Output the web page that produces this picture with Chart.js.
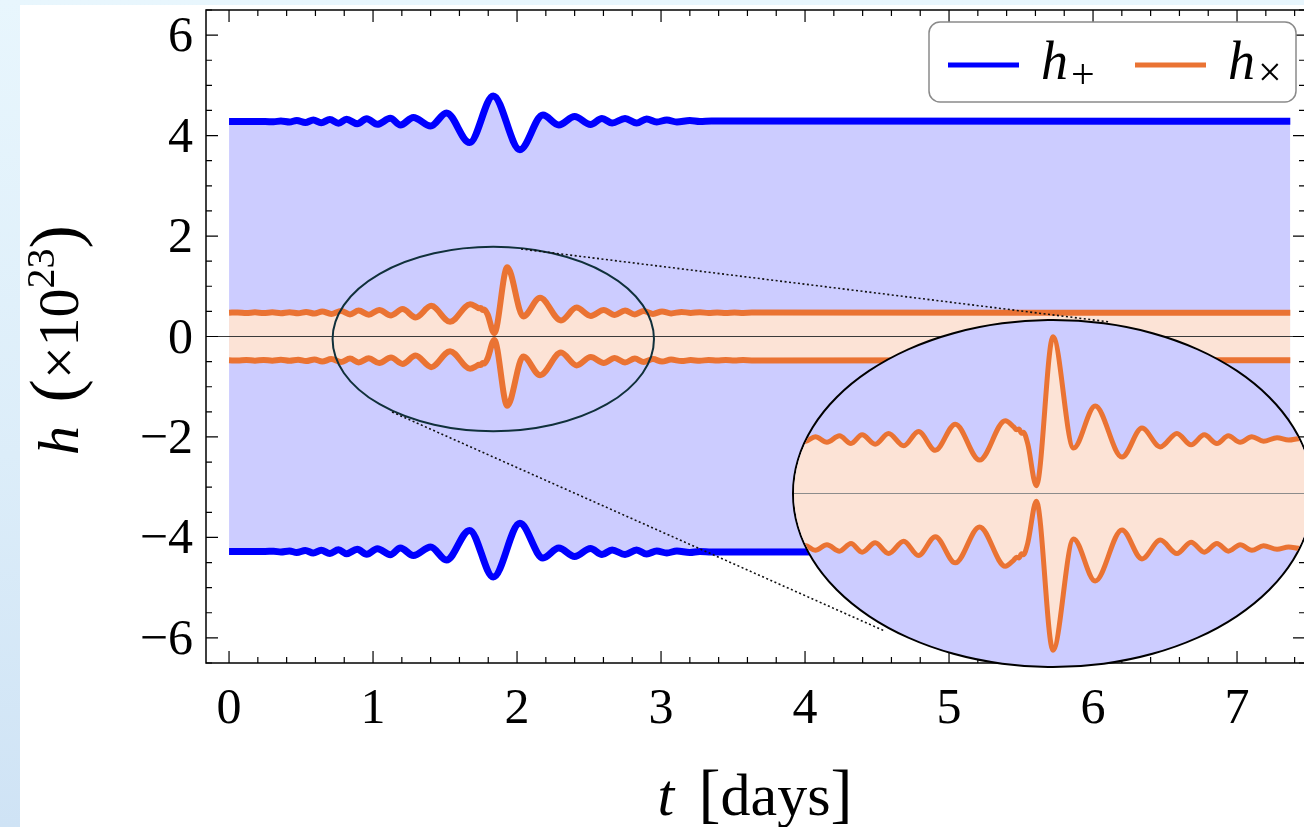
<!DOCTYPE html>
<html>
<head>
<meta charset="utf-8">
<script src="https://cdn.jsdelivr.net/npm/chart.js@4.4.0/dist/chart.umd.min.js"></script>
<style>
  html, body { margin: 0; padding: 0; width: 1304px; height: 827px; overflow: hidden; }
  body { position: relative; background: linear-gradient(180deg, #e8f6fd 0%, #dcedf9 55%, #cfe3f5 100%); }
  #panel { position: absolute; left: 20px; top: 5px; width: 1284px; height: 822px; background: #fff; }
  #main { position: absolute; left: 0; top: 0; }
  #lens { position: absolute; left: 792px; top: 319px; width: 518px; height: 345px;
          border: 2px solid #000; border-radius: 50%; overflow: hidden; background: rgb(204,204,255); }
  #zoom { display: block; }
</style>
</head>
<body>
<div id="panel"></div>
<canvas id="main" width="1310" height="827"></canvas>
<div id="lens"><canvas id="zoom" width="518" height="345"></canvas></div>
<script>
// h_plus: extrema (days, x1e-23)
const tPlus = [0.00, 0.25, 0.31, 0.36, 0.42, 0.47, 0.53, 0.585, 0.64, 0.70, 0.76, 0.816, 0.89, 0.956,
  1.03, 1.12, 1.19, 1.28, 1.40, 1.51, 1.67, 1.835, 2.02, 2.18, 2.29, 2.40, 2.51, 2.59, 2.66, 2.75,
  2.83, 2.90, 2.97, 3.04, 3.11, 3.20, 3.27, 3.35, 7.37];
const hPlusTop = [4.28, 4.28, 4.275, 4.29, 4.27, 4.30, 4.26, 4.31, 4.255, 4.32, 4.245, 4.325, 4.235, 4.335,
  4.225, 4.345, 4.21, 4.36, 4.19, 4.45, 3.86, 4.79, 3.72, 4.41, 4.21, 4.38, 4.22, 4.34, 4.25, 4.34,
  4.25, 4.33, 4.27, 4.31, 4.27, 4.30, 4.28, 4.29, 4.285];
const hPlusBottom = [-4.28, -4.28, -4.275, -4.29, -4.27, -4.30, -4.26, -4.31, -4.255, -4.32, -4.245, -4.325, -4.235, -4.335,
  -4.225, -4.345, -4.21, -4.36, -4.19, -4.45, -3.86, -4.79, -3.72, -4.41, -4.21, -4.38, -4.22, -4.34, -4.25, -4.34,
  -4.25, -4.33, -4.27, -4.31, -4.27, -4.30, -4.28, -4.29, -4.285];

// h_cross: extrema
const tCross = [0.00, 0.06, 0.12, 0.18, 0.24, 0.30, 0.36, 0.42, 0.48, 0.535, 0.593, 0.647, 0.710, 0.778,
  0.840, 0.900, 0.971, 1.043, 1.125, 1.205, 1.296, 1.404, 1.535, 1.674, 1.720, 1.735, 1.748, 1.762,
  1.772, 1.795, 1.842, 1.932, 2.043, 2.160, 2.305, 2.413, 2.512, 2.602, 2.678, 2.750, 2.818, 2.880,
  2.944, 3.007, 3.070, 3.143, 3.206, 3.270, 3.330, 3.390, 3.450, 3.510, 3.570, 3.630, 7.370];
const hCrossTop = [0.474, 0.480, 0.468, 0.481, 0.467, 0.482, 0.465, 0.484, 0.463, 0.488, 0.458, 0.500, 0.450, 0.507,
  0.440, 0.516, 0.434, 0.528, 0.420, 0.545, 0.380, 0.610, 0.294, 0.640, 0.585, 0.560, 0.568, 0.530,
  0.538, 0.440, 0.068, 1.378, 0.400, 0.770, 0.320, 0.575, 0.410, 0.528, 0.428, 0.516, 0.440, 0.507,
  0.450, 0.500, 0.460, 0.490, 0.470, 0.484, 0.466, 0.480, 0.468, 0.478, 0.470, 0.476, 0.474];
const hCrossBottom = [-0.474, -0.480, -0.468, -0.481, -0.467, -0.482, -0.465, -0.484, -0.463, -0.488, -0.458, -0.500, -0.450, -0.507,
  -0.440, -0.516, -0.434, -0.528, -0.420, -0.545, -0.380, -0.610, -0.294, -0.640, -0.585, -0.560, -0.568, -0.530,
  -0.538, -0.440, -0.068, -1.378, -0.400, -0.770, -0.320, -0.575, -0.410, -0.528, -0.428, -0.516, -0.440, -0.507,
  -0.450, -0.500, -0.460, -0.490, -0.470, -0.484, -0.466, -0.480, -0.468, -0.478, -0.470, -0.476, -0.474];

const xTicks = [0, 1, 2, 3, 4, 5, 6, 7];
const xTickLabels = ['0', '1', '2', '3', '4', '5', '6', '7'];
const yTicks = [-6, -4, -2, 0, 2, 4, 6];
const yTickLabels = ['\u22126', '\u22124', '\u22122', '0', '2', '4', '6'];

const BLUE = '#0000ff';
const ORANGE = '#ea7333';
const BLUE_FILL = 'rgba(0,0,255,0.2)';
const PEACH = '#fce3d6';
const SERIF = '"Liberation Serif", "DejaVu Serif", serif';

// zoom marker on the main plot (data units) and the dotted guide lines
const lens = { t: 1.835, h: -0.05, dt: 1.116, dh: 1.836 };
const guides = [
  [[2.028, 1.742], [6.118, 0.289]],
  [[1.132, -1.503], [4.556, -5.867]]
];

function pts(ts, vs) {
  return ts.map((t, i) => ({ x: t, y: vs[i] }));
}

function drawText(ctx, parts, x, y, align) {
  let total = 0;
  parts.forEach(p => { ctx.font = p.font; p.w = ctx.measureText(p.text).width + (p.gap || 0); total += p.w; });
  let cx = align === 'center' ? x - total / 2 : x;
  parts.forEach(p => {
    ctx.font = p.font;
    ctx.fillText(p.text, cx, y + (p.dy || 0));
    cx += p.w;
  });
}

const frame = {
  id: 'frame',
  afterDatasetsDraw(chart) {
    const { ctx, chartArea: a, scales: { x, y } } = chart;
    ctx.save();
    // zero line
    const y0 = y.getPixelForValue(0);
    ctx.strokeStyle = '#3a3a3a';
    ctx.lineWidth = 1.2;
    ctx.beginPath(); ctx.moveTo(a.left, y0); ctx.lineTo(a.right, y0); ctx.stroke();

    // small ellipse
    const cx = x.getPixelForValue(lens.t), cy = y.getPixelForValue(lens.h);
    const rx = x.getPixelForValue(lens.t + lens.dt) - cx;
    const ry = cy - y.getPixelForValue(lens.h + lens.dh);
    ctx.strokeStyle = '#10303b';
    ctx.lineWidth = 2;
    ctx.beginPath(); ctx.ellipse(cx, cy, rx, ry, 0, 0, Math.PI * 2); ctx.stroke();

    // dotted guides
    ctx.strokeStyle = '#111';
    ctx.lineWidth = 1.6;
    ctx.setLineDash([2, 2.5]);
    guides.forEach(g => {
      ctx.beginPath();
      ctx.moveTo(x.getPixelForValue(g[0][0]), y.getPixelForValue(g[0][1]));
      ctx.lineTo(x.getPixelForValue(g[1][0]), y.getPixelForValue(g[1][1]));
      ctx.stroke();
    });
    ctx.restore();
  },
  afterDraw(chart) {
    const { ctx, chartArea: a, scales: { x, y } } = chart;
    ctx.save();
    ctx.strokeStyle = '#000';
    ctx.lineWidth = 1.5;
    ctx.strokeRect(a.left, a.top, a.right - a.left, a.bottom - a.top);

    // inward ticks, minor every 0.2 on t and 0.5 on h
    ctx.lineWidth = 1.2;
    ctx.beginPath();
    for (let i = 0; i <= 37; i++) {
      const px = x.getPixelForValue(i * 0.2);
      const len = i % 5 === 0 ? 12 : 6;
      ctx.moveTo(px, a.bottom); ctx.lineTo(px, a.bottom - len);
      ctx.moveTo(px, a.top); ctx.lineTo(px, a.top + len);
    }
    for (let i = -13; i <= 13; i++) {
      const py = y.getPixelForValue(i * 0.5);
      const len = i % 4 === 0 ? 12 : 6;
      ctx.moveTo(a.left, py); ctx.lineTo(a.left + len, py);
      ctx.moveTo(a.right, py); ctx.lineTo(a.right - len, py);
    }
    ctx.stroke();

    // tick labels
    ctx.fillStyle = '#000';
    ctx.font = '50px ' + SERIF;
    ctx.textBaseline = 'alphabetic';
    ctx.textAlign = 'center';
    xTicks.forEach((v, i) => ctx.fillText(xTickLabels[i], x.getPixelForValue(v), a.bottom + 60));
    ctx.textAlign = 'right';
    yTicks.forEach((v, i) => ctx.fillText(yTickLabels[i], a.left - 13, y.getPixelForValue(v) + 16));

    // axis titles
    ctx.textAlign = 'left';
    drawText(ctx, [
      { text: 't', font: 'italic 60px ' + SERIF, gap: 8 },
      { text: ' [', font: '66px ' + SERIF },
      { text: 'days', font: '60px ' + SERIF },
      { text: ']', font: '66px ' + SERIF }
    ], 755, 815, 'center');

    ctx.save();
    ctx.translate(78, 340);
    ctx.rotate(-Math.PI / 2);
    drawText(ctx, [
      { text: 'h', font: 'italic 58px ' + SERIF, gap: 6 },
      { text: ' (', font: '70px ' + SERIF },
      { text: '\u00d710', font: '58px ' + SERIF },
      { text: '23', font: '40px ' + SERIF, dy: -24 },
      { text: ')', font: '70px ' + SERIF }
    ], 0, 0, 'center');
    ctx.restore();

    // legend
    ctx.fillStyle = '#fff';
    ctx.strokeStyle = '#8a8a8a';
    ctx.lineWidth = 1.5;
    ctx.beginPath(); ctx.roundRect(929, 22, 367, 80, 11); ctx.fill(); ctx.stroke();
    ctx.lineWidth = 5;
    ctx.strokeStyle = BLUE;
    ctx.beginPath(); ctx.moveTo(948, 65); ctx.lineTo(1019, 65); ctx.stroke();
    ctx.strokeStyle = ORANGE;
    ctx.beginPath(); ctx.moveTo(1135, 65); ctx.lineTo(1206, 65); ctx.stroke();
    ctx.fillStyle = '#000';
    drawText(ctx, [
      { text: 'h', font: 'italic 54px ' + SERIF, gap: 3 },
      { text: '+', font: '42px ' + SERIF, dy: 9 }
    ], 1041, 79, 'left');
    drawText(ctx, [
      { text: 'h', font: 'italic 54px ' + SERIF, gap: 3 },
      { text: '\u00d7', font: '42px ' + SERIF, dy: 7 }
    ], 1228, 79, 'left');
    ctx.restore();
  }
};

new Chart(document.getElementById('main'), {
  type: 'line',
  data: {
    datasets: [{
      label: 'h+ upper',
      data: pts(tPlus, hPlusTop),
      borderColor: BLUE,
      backgroundColor: BLUE_FILL,
      borderWidth: 7,
      fill: '+1',
      order: 2
    }, {
      label: 'h+ lower',
      data: pts(tPlus, hPlusBottom),
      borderColor: BLUE,
      borderWidth: 7,
      fill: false,
      order: 2
    }, {
      label: 'hx upper',
      data: pts(tCross, hCrossTop),
      borderColor: ORANGE,
      backgroundColor: PEACH,
      borderWidth: 6,
      fill: '+1',
      order: 1
    }, {
      label: 'hx lower',
      data: pts(tCross, hCrossBottom),
      borderColor: ORANGE,
      borderWidth: 6,
      fill: false,
      order: 1
    }]
  },
  options: {
    responsive: false,
    animation: false,
    events: [],
    layout: { padding: { left: 206, top: 10, right: 5, bottom: 164 } },
    elements: {
      point: { radius: 0 },
      line: { cubicInterpolationMode: 'monotone', borderJoinStyle: 'round' }
    },
    scales: {
      x: { type: 'linear', min: -0.16, max: 7.472, display: false },
      y: { type: 'linear', min: -6.5, max: 6.5, display: false }
    },
    plugins: {
      legend: { display: false },
      tooltip: { enabled: false },
      filler: { drawTime: 'beforeDatasetsDraw' }
    }
  },
  plugins: [frame]
});

// magnified view inside the big ellipse
const zeroLine = {
  id: 'zeroLine',
  afterDatasetsDraw(chart) {
    const { ctx, chartArea: a, scales: { y } } = chart;
    const y0 = y.getPixelForValue(0);
    ctx.save();
    ctx.strokeStyle = '#8c8c8c';
    ctx.lineWidth = 1;
    ctx.beginPath(); ctx.moveTo(a.left, y0); ctx.lineTo(a.right, y0); ctx.stroke();
    ctx.restore();
  }
};

new Chart(document.getElementById('zoom'), {
  type: 'line',
  data: {
    datasets: [{
      label: 'hx upper',
      data: pts(tCross, hCrossTop),
      borderColor: ORANGE,
      backgroundColor: PEACH,
      borderWidth: 5,
      fill: '+1'
    }, {
      label: 'hx lower',
      data: pts(tCross, hCrossBottom),
      borderColor: ORANGE,
      borderWidth: 5,
      fill: false
    }]
  },
  options: {
    responsive: false,
    animation: false,
    events: [],
    layout: { padding: 0 },
    elements: {
      point: { radius: 0 },
      line: { cubicInterpolationMode: 'monotone', borderJoinStyle: 'round' }
    },
    scales: {
      x: { type: 'linear', min: 0.532, max: 3.332, display: false },
      y: { type: 'linear', min: -1.517, max: 1.517, display: false }
    },
    plugins: {
      legend: { display: false },
      tooltip: { enabled: false },
      filler: { drawTime: 'beforeDatasetsDraw' }
    }
  },
  plugins: [zeroLine]
});
</script>
</body>
</html>
